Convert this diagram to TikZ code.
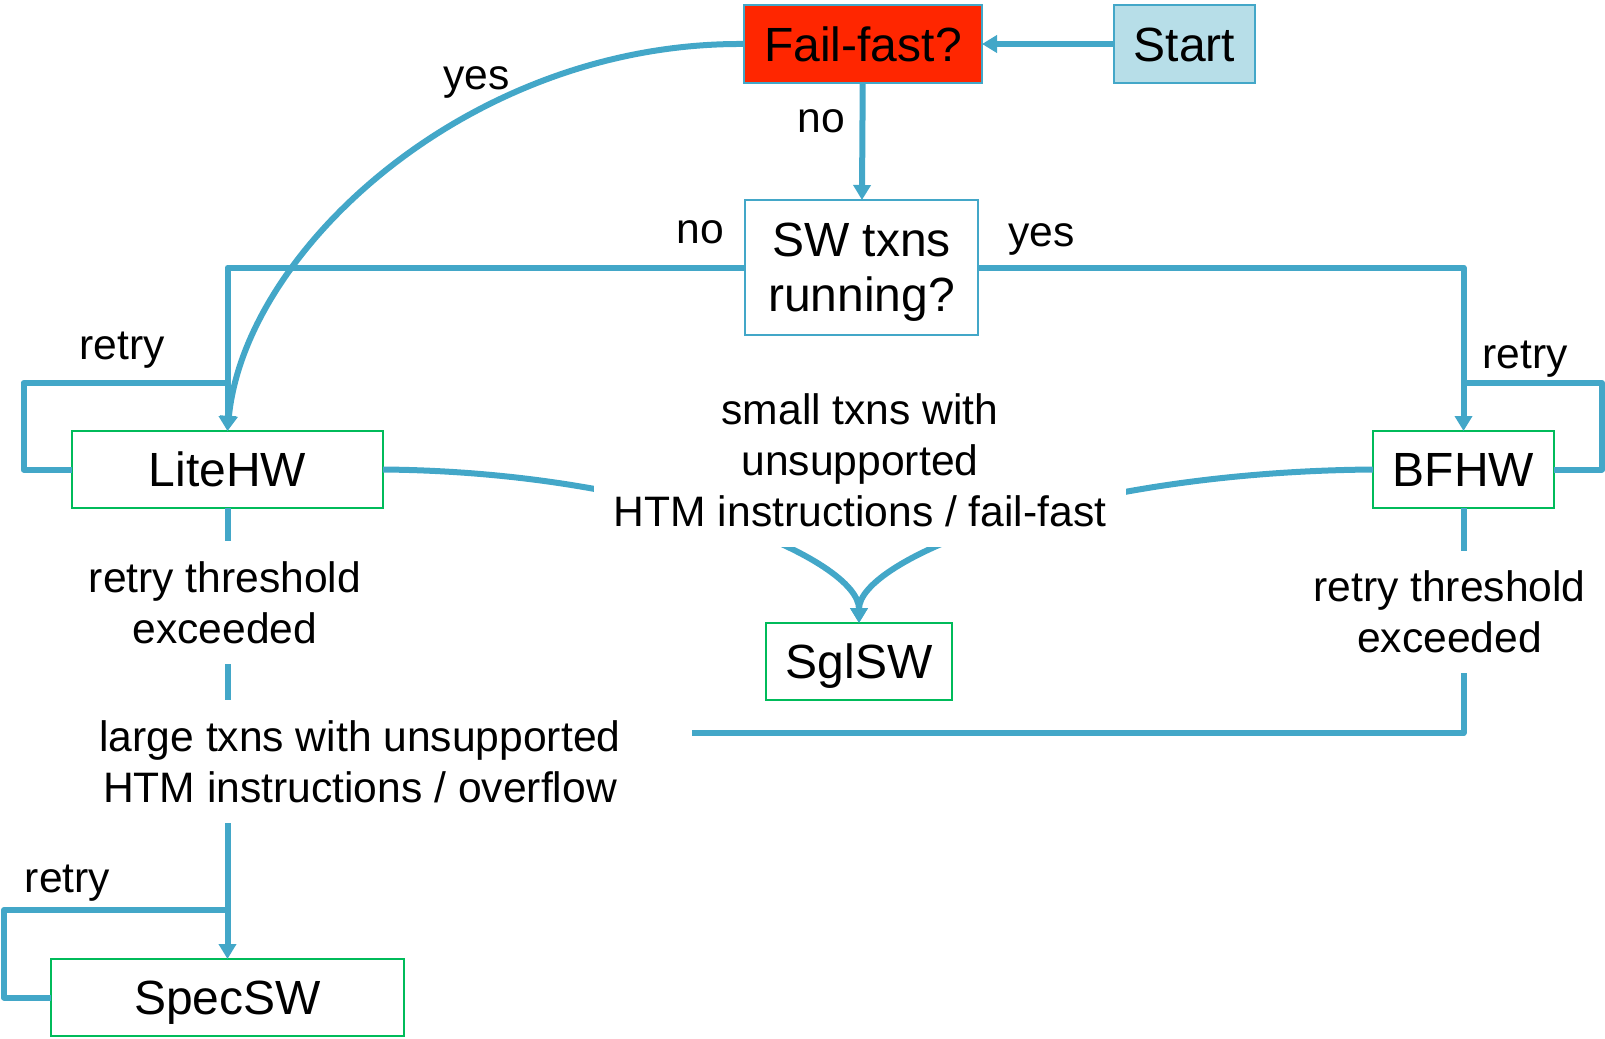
\documentclass[tikz,border=0pt]{standalone}
\usepackage{fontspec}
\setmainfont{Liberation Sans}
\usetikzlibrary{arrows.meta}
\definecolor{flowblue}{HTML}{43A7C8}
\definecolor{boxgreen}{HTML}{00BB5A}
\definecolor{startfill}{HTML}{B7DEE8}
\definecolor{failred}{HTML}{FF2600}

\begin{document}
\begin{tikzpicture}[x=0.5pt,y=-0.5pt,
  box/.style={draw=flowblue,line width=1pt,inner sep=0pt,outer sep=0pt,align=center,
    font=\fontsize{24}{27.5}\selectfont},
  onebox/.style={box,text height=17.2pt,text depth=0pt},
  hwbox/.style={onebox,draw=boxgreen,minimum height=38.5pt},
  link/.style={draw=flowblue,line width=3pt,line join=round},
  flow/.style={link,-{Triangle[length=7.5pt,width=8.5pt]}},
  lbl/.style={font=\fontsize{21.3}{25.5}\selectfont,inner sep=0pt,anchor=base},
  cut/.style={fill=white,inner sep=10pt,align=center,font=\fontsize{21.3}{25.5}\selectfont}
]
\useasboundingbox (0,0) rectangle (1605,1038);

% decision and start boxes
\node[onebox,fill=failred,minimum width=119pt,minimum height=39pt] (fail) at (863,44) {Fail-fast?};
\node[onebox,fill=startfill,minimum width=70.5pt,minimum height=39pt] (start) at (1184.5,44) {Start};
\node[box,fill=white,minimum width=116.5pt,minimum height=67.5pt] (sw) at (861.5,267.5)
  {\rule{0pt}{21.5pt}SW txns\\running?\rule[-5.5pt]{0pt}{5.5pt}};

% execution modes
\node[hwbox,minimum width=155.5pt] (lite) at (227.5,469.5) {LiteHW};
\node[hwbox,minimum width=90.5pt] (bfhw) at (1463.5,469.5) {BFHW};
\node[hwbox,minimum width=93pt] (sgl) at (859,661.5) {SglSW};
\node[hwbox,minimum width=176.5pt] (spec) at (227.5,997.5) {SpecSW};

% loose ends of the connectors
\coordinate (liteRetry) at (227.5,383);
\coordinate (bfhwRetry) at (1463.5,383);
\coordinate (specRetry) at (227.5,910);
\coordinate (largeEnd) at (692,733);

% connectors
\draw[flow] (start) -- (fail);
\draw[flow] (fail) -- (sw);
\draw[flow] (sw.west) -| (lite.north);
\draw[flow] (sw.east) -| (bfhw.north);
\draw[flow] (fail.west) .. controls (470,42) and (245,250) .. (lite.north);
\draw[link] (lite.west) -- ++(-48.5,0) |- (liteRetry);
\draw[link] (bfhw.east) -- ++(48,0) |- (bfhwRetry);
\draw[link] (spec.west) -- ++(-47,0) |- (specRetry);
\draw[flow] (lite.south) -- (spec.north);
\draw[link] (bfhw.south) |- (largeEnd);
\draw[flow] (lite.east) .. controls (660,472) and (859,560) .. (sgl.north);
\draw[flow] (bfhw.west) .. controls (1068,472) and (859,560) .. (sgl.north);

% labels laid over the connectors
\node[cut] (smallLbl) at (860,460) {small txns with\\unsupported\\HTM instructions / fail-fast};
\node[cut] (liteThr) at (225,602.5) {retry threshold\\exceeded};
\node[cut] (bfhwThr) at (1449.5,612) {retry threshold\\exceeded};
\node[cut] (largeLbl) at (360,761.5) {large txns with unsupported\\HTM instructions / overflow};

% branch labels
\node[lbl] (yesFail) at (476.5,90) {yes};
\node[lbl] (noFail) at (821,133) {no};
\node[lbl] (noSw) at (700.5,243) {no};
\node[lbl] (yesSw) at (1041.5,246.5) {yes};
\node[lbl] (retryLite) at (122,359) {retry};
\node[lbl] (retryBfhw) at (1525,368.5) {retry};
\node[lbl] (retrySpec) at (67.5,892.5) {retry};
\end{tikzpicture}
\end{document}
